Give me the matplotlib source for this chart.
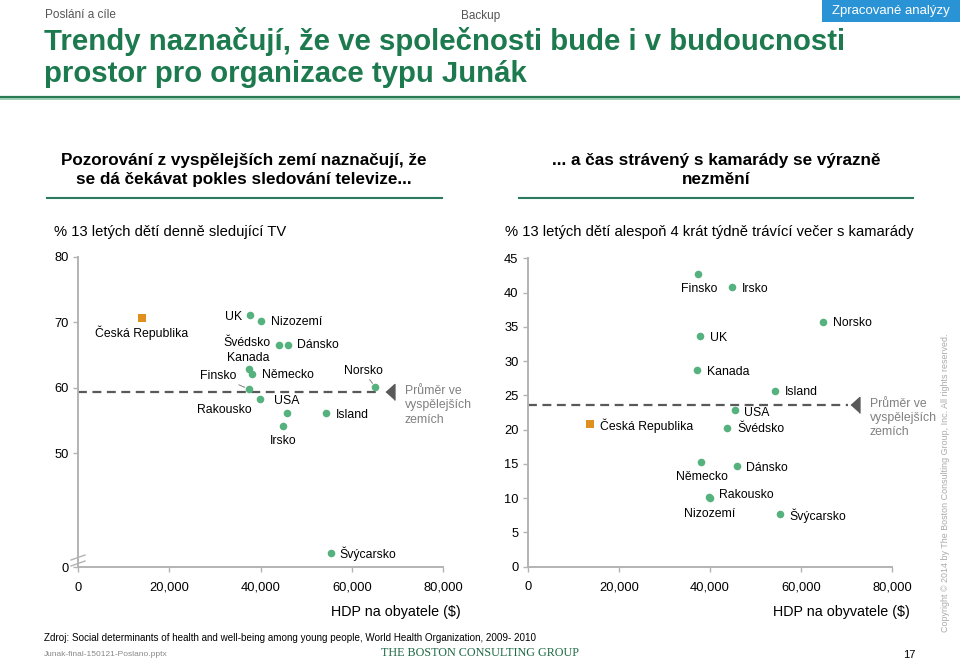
import numpy as np
import matplotlib
matplotlib.use("Agg")
import matplotlib.pyplot as plt
from matplotlib.lines import Line2D
from matplotlib.patches import Rectangle

plt.rcParams['font.family'] = ['Liberation Sans', 'DejaVu Sans']

# ---------------- data ----------------
tv_countries = ["Česká Republika", "UK", "Nizozemí", "Švédsko", "Dánsko", "Kanada",
                "Německo", "Finsko", "Norsko", "Rakousko", "USA", "Island", "Irsko",
                "Švýcarsko"]
tv_gdp = [14000, 37700, 40000, 44000, 46000, 37400, 38100, 37400, 65100, 39800,
          45700, 54300, 44900, 55400]
tv_share = [70.7, 71.2, 70.2, 66.6, 66.6, 62.8, 62.1, 59.8, 60.15, 58.2, 56.2,
            56.2, 54.2, 6.1]
tv_avg = 59.3

fr_countries = ["Česká Republika", "Finsko", "Irsko", "Norsko", "UK", "Kanada",
                "Island", "USA", "Švédsko", "Německo", "Dánsko", "Rakousko",
                "Nizozemí", "Švýcarsko"]
fr_gdp = [13700, 37400, 44900, 64900, 37800, 37200, 54200, 45500, 43800, 38000,
          45900, 39800, 40000, 55300]
fr_share = [20.8, 42.7, 40.8, 35.7, 33.7, 28.7, 25.7, 22.8, 20.2, 15.3, 14.7,
            10.2, 10.0, 7.7]
fr_avg = 23.6

x_ticks = [0, 20000, 40000, 60000, 80000]
x_ticklabels = ["0", "20,000", "40,000", "60,000", "80,000"]
tv_yticks = [0, 50, 60, 70, 80]
fr_yticks = [0, 5, 10, 15, 20, 25, 30, 35, 40, 45]

# label placement (offset pixels, ha)
tv_label_pos = {
    "Česká Republika": (0, -15, 'center'),
    "UK": (-8, -2, 'right'),
    "Nizozemí": (10, -1, 'left'),
    "Švédsko": (-8, 2, 'right'),
    "Dánsko": (9, 0, 'left'),
    "Kanada": (0, 11, 'center'),
    "Německo": (10, -1, 'left'),
    "Finsko": (-12, 13, 'right'),
    "Norsko": (-12, 16, 'center'),
    "Rakousko": (-8, -11, 'right'),
    "USA": (0, 12, 'center'),
    "Island": (10, -2, 'left'),
    "Irsko": (0, -15, 'center'),
    "Švýcarsko": (9, -1, 'left'),
}
fr_label_pos = {
    "Česká Republika": (10, -1.5, 'left'),
    "Finsko": (1, -15, 'center'),
    "Irsko": (10, -2, 'left'),
    "Norsko": (10, -1, 'left'),
    "UK": (10, -2, 'left'),
    "Kanada": (10, -2, 'left'),
    "Island": (10, -1.5, 'left'),
    "USA": (9, -2.5, 'left'),
    "Švédsko": (10, -1, 'left'),
    "Německo": (1, -15, 'center'),
    "Dánsko": (9, -1.6, 'left'),
    "Rakousko": (10, 1.7, 'left'),
    "Nizozemí": (0, -15.5, 'center'),
    "Švýcarsko": (9.5, -1.6, 'left'),
}
tv_leaders = {"Finsko", "Norsko"}

GREEN_PT = '#55b27f'
ORANGE = '#e0901e'
AXIS_C = '#b3b3b3'
TITLE_G = '#1d7a4e'
W, H = 960, 662

fig = plt.figure(figsize=(W / 100, H / 100), dpi=100)


def fx(px):
    return px / W


def fy(py):
    return 1 - py / H


# ---------------- header ----------------
fig.text(fx(45), fy(15), "Poslání a cíle", fontsize=8.5, color='#555555', va='center')
fig.text(fx(481), fy(16), "Backup", fontsize=8.5, color='#555555', va='center', ha='center')
fig.add_artist(Rectangle((fx(822), fy(22)), fx(960) - fx(822), fy(0) - fy(22),
                         transform=fig.transFigure, color='#2a93d5', lw=0))
fig.text(fx(891), fy(11), "Zpracované analýzy", fontsize=9.5, color='white', va='center',
         ha='center')
fig.text(fx(44), fy(41), "Trendy naznačují, že ve společnosti bude i v budoucnosti",
         fontsize=21.2, fontweight='bold', color=TITLE_G, va='center')
fig.text(fx(44), fy(74), "prostor pro organizace typu Junák",
         fontsize=21.2, fontweight='bold', color=TITLE_G, va='center')
fig.add_artist(Line2D([0, 1], [fy(96.5), fy(96.5)], transform=fig.transFigure,
                      color='#2b7a56', lw=1.6))
fig.add_artist(Line2D([0, 1], [fy(98.8), fy(98.8)], transform=fig.transFigure,
                      color='#8cc7a8', lw=1.2))

# subheadings
fig.text(fx(244), fy(170), "Pozorování z vyspělejších zemí naznačují, že\nse dá čekávat pokles sledování televize...",
         fontsize=12.3, fontweight='bold', ha='center', va='center', linespacing=1.3)
fig.text(fx(716), fy(170), "... a čas strávený s kamarády se výrazně\nnezmění",
         fontsize=12.3, fontweight='bold', ha='center', va='center', linespacing=1.3)
fig.add_artist(Line2D([fx(47), fx(442)], [fy(198), fy(198)], transform=fig.transFigure,
                      color='#2b7a5d', lw=1.5))
fig.add_artist(Line2D([fx(519), fx(913)], [fy(198), fy(198)], transform=fig.transFigure,
                      color='#2b7a5d', lw=1.5))
fig.text(fx(54), fy(232), "% 13 letých dětí denně sledující TV", fontsize=10.6, va='center')
fig.text(fx(505), fy(232), "% 13 letých dětí alespoň 4 krát týdně trávící večer s kamarády",
         fontsize=10.6, va='center')

# ---------------- axes ----------------
R = 114 / 65.4 / 5  # compression of the 0-50 segment


def fwd(y):
    y = np.asarray(y, dtype=float)
    return np.where(y >= 50, y, 50 - (50 - y) * R)


def inv(t):
    t = np.asarray(t, dtype=float)
    return np.where(t >= 50, t, 50 - (50 - t) / R)


ax1 = fig.add_axes([fx(78), fy(567), fx(443) - fx(78), fy(257) - fy(567)])
ax2 = fig.add_axes([fx(527.7), fy(566.7), fx(892) - fx(527.7), fy(258.3) - fy(566.7)])

ax1.set_yscale('function', functions=(fwd, inv))
ax1.set_ylim(0, 80)
ax1.set_yticks(tv_yticks)
ax2.set_ylim(0, 45)
ax2.set_yticks(fr_yticks)

tri = [(-0.5, 0), (0.5, 0.9), (0.5, -0.9)]

for ax in (ax1, ax2):
    ax.set_xlim(0, 80000)
    ax.set_xticks(x_ticks)
    ax.set_xticklabels(x_ticklabels)
    for s in ('top', 'right'):
        ax.spines[s].set_visible(False)
    for s in ('left', 'bottom'):
        ax.spines[s].set_color(AXIS_C)
        ax.spines[s].set_linewidth(1.4)
    ax.tick_params(axis='both', colors=AXIS_C, labelcolor='black', labelsize=9.3,
                   length=3.6, width=1.0)
    ax.tick_params(axis='x', pad=7)
    ax.tick_params(axis='y', pad=3)
    ax.patch.set_alpha(0)


def draw(ax, names, gx, gy, avg, pos, leaders, line_end, tri_x):
    ax.plot([0, line_end], [avg, avg], color='#595959', lw=1.6, dashes=(4, 2.5),
            zorder=1)
    ax.plot([tri_x], [avg], marker=tri, markersize=11.5, color='#595959', lw=0,
            clip_on=False)
    ax.annotate("Průměr ve\nvyspělejších\nzemích", xy=(tri_x, avg), xytext=(15, -13),
                textcoords='offset pixels', fontsize=8.8, color='#808080',
                ha='left', va='center', linespacing=1.25, annotation_clip=False)
    for n, x, y in zip(names, gx, gy):
        if n == "Česká Republika":
            ax.scatter([x], [y], s=28, marker='s', color=ORANGE, zorder=3, lw=0,
                       clip_on=False)
        else:
            ax.scatter([x], [y], s=30, marker='o', color=GREEN_PT, zorder=3, lw=0,
                       clip_on=False)
        dx, dy, ha = pos[n]
        kw = {}
        if n in leaders:
            kw['arrowprops'] = dict(arrowstyle='-', color='#808080', lw=0.7,
                                    shrinkA=0, shrinkB=3)
        ax.annotate(n, xy=(x, y), xytext=(dx, dy), textcoords='offset pixels',
                    ha=ha, va='center', fontsize=8.8, annotation_clip=False, **kw)


draw(ax1, tv_countries, tv_gdp, tv_share, tv_avg, tv_label_pos, tv_leaders,
     66500, 68300)
draw(ax2, fr_countries, fr_gdp, fr_share, fr_avg, fr_label_pos, set(),
     70300, 71800)

# axis break marks on the left chart
for yy in (557.5, 563.5):
    fig.add_artist(Line2D([fx(71), fx(85)], [fy(yy + 2.5), fy(yy - 2.5)],
                          transform=fig.transFigure, color=AXIS_C, lw=1.0))

fig.text(fx(461), fy(612), "HDP na obyatele ($)", fontsize=10.3, ha='right', va='center')
fig.text(fx(910), fy(612), "HDP na obyvatele ($)", fontsize=10.3, ha='right', va='center')

# ---------------- footer ----------------
fig.text(fx(44), fy(638), "Zdroj: Social determinants of health and well-being among young people, World Health Organization, 2009- 2010",
         fontsize=7.15, va='center')
fig.text(fx(44), fy(655), "Junak-final-150121-Poslano.pptx", fontsize=6, color='#888888',
         va='center')
fig.text(fx(480), fy(653), "THE BOSTON CONSULTING GROUP", fontsize=8.7, color='#1d6a45',
         ha='center', va='center', family=['Liberation Serif', 'DejaVu Serif'])
fig.text(fx(909), fy(655), "17", fontsize=8, ha='center', va='center')
fig.text(fx(946), fy(483), "Copyright © 2014 by The Boston Consulting Group, Inc. All rights reserved.",
         fontsize=6.4, color='#aaaaaa', rotation=90, ha='center', va='center')

fig.savefig("out.png", dpi=100)
